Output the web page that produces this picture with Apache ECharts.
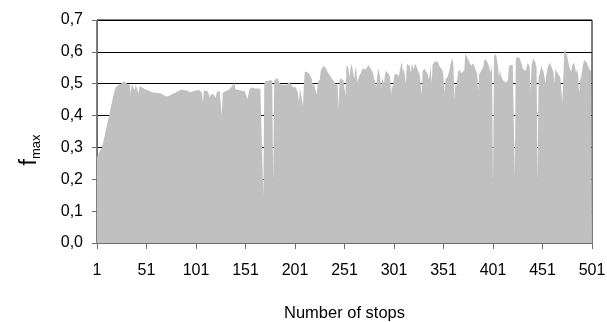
<!DOCTYPE html>
<html>
<head>
<meta charset="utf-8">
<script src="https://cdn.jsdelivr.net/npm/echarts@6/dist/echarts.min.js"></script>
<style>
html,body{margin:0;padding:0;background:#fff;}
#c{width:607px;height:322px;}
</style>
</head>
<body>
<div id="c"></div>
<script>
// f_max for stops 1..100
var fmax1 = [
0.270,0.275,0.282,0.290,0.296,0.300,0.312,0.326,0.340,0.355,
0.369,0.383,0.397,0.411,0.425,0.440,0.455,0.468,0.480,0.488,
0.492,0.495,0.494,0.497,0.499,0.502,0.505,0.508,0.506,0.503,
0.501,0.500,0.499,0.497,0.468,0.498,0.497,0.495,0.480,0.496,
0.495,0.494,0.470,0.493,0.490,0.489,0.487,0.485,0.483,0.482,
0.480,0.478,0.479,0.476,0.475,0.474,0.475,0.473,0.472,0.473,
0.471,0.472,0.470,0.469,0.470,0.468,0.467,0.465,0.463,0.461,
0.460,0.461,0.463,0.462,0.465,0.466,0.468,0.469,0.470,0.472,
0.471,0.474,0.476,0.478,0.480,0.482,0.481,0.483,0.480,0.479,
0.477,0.478,0.474,0.476,0.473,0.472,0.475,0.476,0.478,0.477];
// stops 101..200
var fmax2 = [
0.479,0.481,0.483,0.480,0.478,0.477,0.472,0.440,0.478,0.481,
0.480,0.479,0.474,0.468,0.455,0.467,0.470,0.468,0.466,0.469,
0.455,0.474,0.478,0.479,0.477,0.474,0.400,0.472,0.476,0.475,
0.477,0.474,0.476,0.480,0.484,0.487,0.490,0.495,0.498,0.502,
0.482,0.480,0.478,0.481,0.479,0.476,0.478,0.481,0.479,0.477,
0.476,0.472,0.452,0.468,0.482,0.485,0.489,0.486,0.484,0.485,
0.483,0.487,0.485,0.488,0.486,0.484,0.483,0.478,0.148,0.500,
0.508,0.510,0.512,0.509,0.511,0.508,0.512,0.505,0.190,0.510,
0.513,0.515,0.518,0.524,0.506,0.500,0.497,0.498,0.495,0.497,
0.493,0.494,0.497,0.500,0.507,0.512,0.497,0.491,0.489,0.486];
// stops 201..300
var fmax3 = [
0.487,0.489,0.485,0.470,0.440,0.488,0.491,0.490,0.430,0.500,
0.538,0.536,0.534,0.535,0.531,0.528,0.526,0.515,0.492,0.503,
0.505,0.500,0.465,0.505,0.508,0.512,0.540,0.548,0.552,0.556,
0.555,0.557,0.545,0.535,0.533,0.528,0.522,0.516,0.512,0.509,
0.510,0.508,0.496,0.505,0.420,0.510,0.517,0.516,0.514,0.510,
0.505,0.462,0.558,0.555,0.550,0.520,0.545,0.564,0.569,0.560,
0.515,0.552,0.540,0.505,0.515,0.525,0.530,0.536,0.548,0.552,
0.548,0.545,0.540,0.552,0.559,0.555,0.550,0.544,0.538,0.530,
0.515,0.508,0.490,0.520,0.548,0.535,0.522,0.486,0.520,0.510,
0.500,0.533,0.541,0.540,0.538,0.528,0.520,0.465,0.500,0.485];
// stops 301..400
var fmax4 = [
0.525,0.530,0.532,0.531,0.528,0.524,0.545,0.559,0.569,0.535,
0.548,0.525,0.501,0.563,0.566,0.560,0.555,0.533,0.564,0.559,
0.545,0.564,0.560,0.552,0.543,0.535,0.528,0.500,0.465,0.540,
0.544,0.548,0.540,0.535,0.531,0.512,0.530,0.554,0.501,0.560,
0.566,0.569,0.572,0.575,0.570,0.562,0.554,0.557,0.550,0.543,
0.520,0.470,0.515,0.518,0.522,0.530,0.543,0.560,0.572,0.580,
0.560,0.449,0.501,0.491,0.520,0.538,0.545,0.540,0.533,0.535,
0.538,0.542,0.595,0.588,0.583,0.575,0.568,0.562,0.556,0.560,
0.564,0.556,0.548,0.540,0.530,0.478,0.530,0.535,0.540,0.545,
0.552,0.570,0.578,0.580,0.574,0.564,0.552,0.543,0.535,0.565];
// stops 401..501
var fmax5 = [
0.180,0.585,0.588,0.595,0.575,0.554,0.522,0.543,0.525,0.520,
0.512,0.510,0.507,0.503,0.508,0.512,0.550,0.559,0.564,0.562,
0.559,0.555,0.205,0.572,0.585,0.590,0.586,0.580,0.570,0.560,
0.548,0.545,0.543,0.540,0.538,0.566,0.560,0.554,0.475,0.560,
0.570,0.580,0.572,0.565,0.550,0.190,0.522,0.530,0.535,0.556,
0.545,0.538,0.533,0.501,0.530,0.548,0.554,0.566,0.562,0.554,
0.545,0.538,0.500,0.548,0.540,0.538,0.530,0.524,0.520,0.515,
0.440,0.520,0.600,0.608,0.595,0.585,0.570,0.554,0.545,0.538,
0.559,0.564,0.566,0.560,0.533,0.548,0.530,0.470,0.510,0.522,
0.540,0.560,0.575,0.580,0.576,0.565,0.555,0.548,0.545,0.540,
0.542];

var fmax = fmax1.concat(fmax2, fmax3, fmax4, fmax5);
var stops = [];
for (var i = 1; i <= fmax.length; i++) stops.push(String(i));
var xTitle = 'Number of stops';
var yTitleMain = 'f';
var yTitleSub = 'max';

var FONT = '"Liberation Sans", Arial, sans-serif';
var chart = echarts.init(document.getElementById('c'), null, {renderer: 'canvas'});
chart.setOption({
  animation: false,
  backgroundColor: '#ffffff',
  grid: {left: 97, right: 15, top: 20, bottom: 79, containLabel: false, outerBoundsMode: 'none',
    show: true, borderColor: '#000', borderWidth: 1, backgroundColor: 'transparent'},
  xAxis: {
    type: 'category',
    data: stops,
    boundaryGap: false,
    axisLine: {lineStyle: {color: '#6e6e6e', width: 1}},
    axisTick: {show: true, interval: 49, length: 6, lineStyle: {color: '#6e6e6e'}},
    axisLabel: {interval: 49, margin: 20, color: '#000', fontSize: 16, fontFamily: FONT},
    splitLine: {show: false},
    name: xTitle,
    nameLocation: 'middle',
    nameGap: 62,
    nameTextStyle: {color: '#000', fontSize: 16.5, fontFamily: FONT}
  },
  yAxis: {
    type: 'value',
    min: 0, max: 0.7, interval: 0.1,
    axisLine: {show: true, lineStyle: {color: '#6e6e6e', width: 1}},
    axisTick: {show: true, length: 5, lineStyle: {color: '#6e6e6e'}},
    axisLabel: {margin: 14, color: '#000', fontSize: 16, fontFamily: FONT,
      formatter: function (v) { return v.toFixed(1).replace('.', ','); }},
    splitLine: {show: true, lineStyle: {color: '#000', width: 1}}
  },
  graphic: [{
    type: 'text',
    x: 30, y: 150,
    rotation: Math.PI / 2,
    style: {
      text: '{a|' + yTitleMain + '}{b|' + yTitleSub + '}',
      align: 'center', verticalAlign: 'middle',
      rich: {
        a: {fontSize: 23, fontFamily: FONT, fill: '#000'},
        b: {fontSize: 13, fontFamily: FONT, fill: '#000', padding: [12, 0, 0, 0]}
      }
    }
  }],
  series: [{
    type: 'line',
    data: fmax,
    showSymbol: false,
    symbol: 'none',
    sampling: null,
    lineStyle: {width: 0, color: '#c0c0c0'},
    areaStyle: {color: '#c0c0c0', opacity: 1},
    z: 2
  }]
});
</script>
</body>
</html>
